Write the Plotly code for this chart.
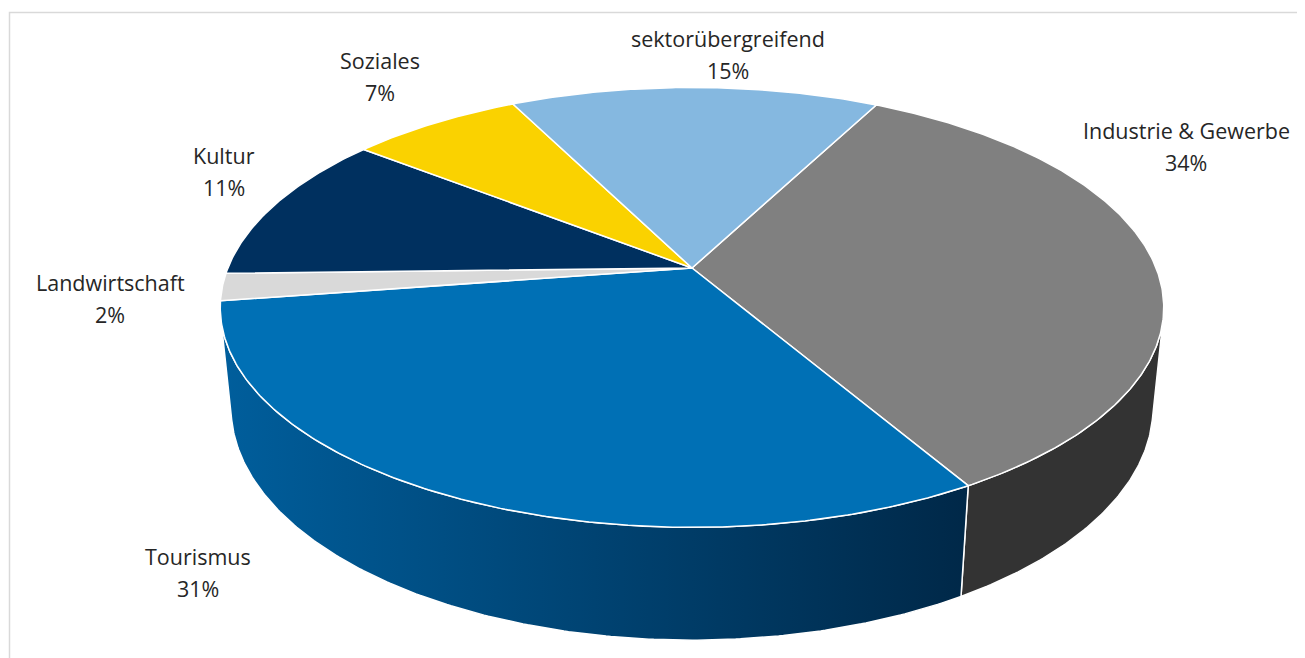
import math
import numpy as np
import plotly.graph_objects as go

# ---------------- data ----------------
categories = ["Industrie & Gewerbe", "Tourismus", "Landwirtschaft", "Kultur", "Soziales", "sektorübergreifend"]
values = [34, 31, 2, 11, 7, 15]
top_colors = ["#808080", "#0070B5", "#D9D9D9", "#00305F", "#FAD200", "#85B8E0"]
side_colors = ["#333333", "#005C99", "#A6A6A6", "#001F3F", "#C8A800", "#5F8FB5"]
side_gradients = {1: ["#005E9C", "#002848"]}

# ---------------- layout / projection parameters ----------------
PAGE_W, PAGE_H = 1305, 658
BODY_MARGIN = 8             # default html body margin
START_ANGLE = 27.4          # first slice angle (deg, clockwise from 12 o'clock)
CX, CY = 692, 268           # projected pie centre (px)
F = 2302.0                  # focal scale
DIST = 4.96                 # camera distance (in radii)
TILT = math.radians(27.3)   # elevation of view
THICK = 0.245               # pie height (in radii)
cA, sA = math.cos(TILT), math.sin(TILT)

# label anchor positions (name line centre, px) and line spacing
label_pos = [(1186, 130), (198, 556), (110, 282), (224, 155), (380, 60), (728, 38)]
LINE_GAP = 32
FONT = "Open Sans"
FONT_SIZE = 21.5
TEXT_COLOR = "#262626"


def proj(r, theta_deg, h):
    t = np.radians(theta_deg)
    u = r * np.sin(t)
    v = -r * np.cos(t)
    Y = h * cA - v * sA
    D = DIST - (v * cA + h * sA)
    return CX + F * u / D, CY - F * Y / D


total = float(sum(values))
angles = [START_ANGLE]
for val in values:
    angles.append(angles[-1] + val / total * 360.0)

# visible part of the outer wall (normal facing the camera)
vmin = 1.0 / (DIST * cA)
vis_lo = math.degrees(math.acos(-vmin))
vis_hi = 360.0 - vis_lo

fig = go.Figure()

# ---- side walls ----
for i, (a0, a1) in enumerate(zip(angles[:-1], angles[1:])):
    for shift in (0.0, 360.0, -360.0):
        s0, s1 = max(a0 + shift, vis_lo), min(a1 + shift, vis_hi)
        if s1 <= s0:
            continue
        th = np.linspace(s0, s1, max(4, int((s1 - s0) * 2)))
        xt, yt = proj(1.0, th, 0.0)
        xb, yb = proj(1.0, th[::-1], -THICK)
        xs = np.concatenate([xt, xb, xt[:1]])
        ys = np.concatenate([yt, yb, yt[:1]])
        kw = dict(fillcolor=side_colors[i])
        if i in side_gradients:
            c0, c1 = side_gradients[i]
            kw = dict(fillgradient=dict(type="horizontal",
                                        colorscale=[[0, c0], [1, c1]],
                                        start=float(xs.min()), stop=float(xs.max())))
        fig.add_trace(go.Scatter(x=xs, y=ys, mode="lines", fill="toself",
                                 line=dict(color="white", width=1.5),
                                 hoverinfo="skip", showlegend=False, **kw))

# ---- top faces ----
for i, (a0, a1) in enumerate(zip(angles[:-1], angles[1:])):
    th = np.linspace(a0, a1, max(4, int((a1 - a0) * 2)))
    xa, ya = proj(1.0, th, 0.0)
    xs = np.concatenate([[CX], xa, [CX]])
    ys = np.concatenate([[CY], ya, [CY]])
    fig.add_trace(go.Scatter(x=xs, y=ys, mode="lines", fill="toself",
                             fillcolor=top_colors[i],
                             line=dict(color="white", width=1.5),
                             name=categories[i], hoverinfo="name", showlegend=False))

# ---- labels ----
for i, (cat, val) in enumerate(zip(categories, values)):
    lx, ly = label_pos[i]
    for txt, yy in ((cat, ly), (f"{val / total * 100:.0f}%", ly + LINE_GAP)):
        fig.add_annotation(x=lx, y=yy, text=txt, showarrow=False,
                           xanchor="center", yanchor="middle",
                           font=dict(family=FONT, size=FONT_SIZE, color=TEXT_COLOR))

# ---- chart area border ----
fig.add_shape(type="rect", x0=9.5, y0=12.5, x1=PAGE_W + 20, y1=PAGE_H + 20,
              line=dict(color="#D9D9D9", width=1.5), layer="below")

fig.update_xaxes(range=[BODY_MARGIN, PAGE_W], visible=False, fixedrange=True)
fig.update_yaxes(range=[PAGE_H, BODY_MARGIN], visible=False, fixedrange=True)
fig.update_layout(width=PAGE_W - BODY_MARGIN, height=PAGE_H - BODY_MARGIN,
                  margin=dict(l=0, r=0, t=0, b=0),
                  paper_bgcolor="white", plot_bgcolor="white", showlegend=False)

fig.write_html("out.html", config={"displayModeBar": False})
